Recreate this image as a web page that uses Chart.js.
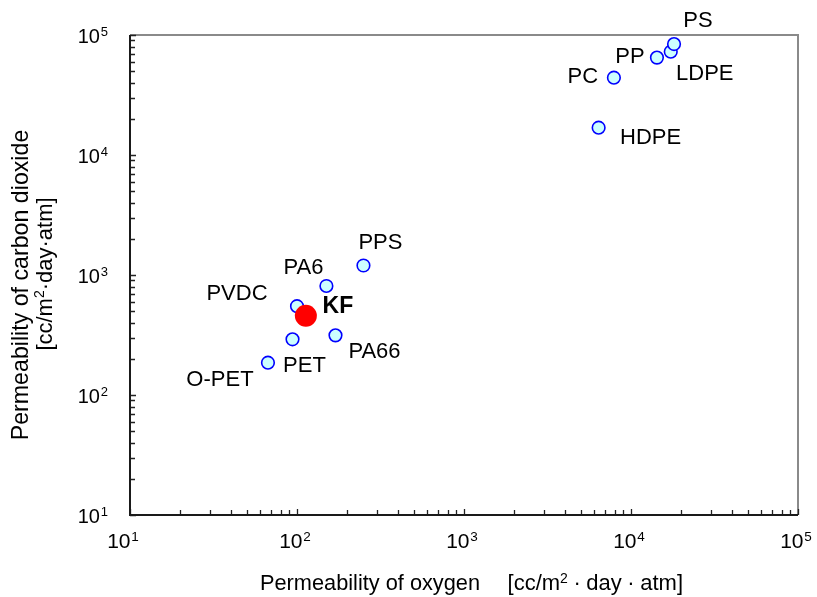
<!DOCTYPE html>
<html>
<head>
<meta charset="utf-8">
<script src="https://cdn.jsdelivr.net/npm/chart.js@4.4.1/dist/chart.umd.min.js"></script>
<style>
  html, body { margin: 0; padding: 0; background: #ffffff; }
  #c { display: block; }
</style>
</head>
<body>
<canvas id="c" width="817" height="597"></canvas>
<script>
// Film materials: oxygen vs. carbon dioxide permeability [cc/m2·day·atm]
const materials     = ['HDPE', 'PC', 'PP', 'LDPE', 'PS', 'PPS', 'PA6', 'PVDC', 'PA66', 'PET', 'O-PET'];
const oxygen        = [6400, 7900, 14300, 17300, 18100, 250, 150, 100, 170, 94, 67];
const carbonDioxide = [16900, 44100, 64800, 72600, 84000, 1200, 810, 550, 314, 291, 186];

// Highlighted material
const kfName          = ['KF'];
const kfOxygen        = [113];
const kfCarbonDioxide = [458];

// Decade tick labels: base and exponent
const tickValues    = [10, 100, 1000, 10000, 100000];
const tickExponents = ['1', '2', '3', '4', '5'];

// Label placement relative to each marker (pixels)
const labelOffset = {
  'PS':   [24, -23], 'LDPE': [34, 22], 'PP': [-27, -1], 'PC': [-31, -1],
  'HDPE': [52, 10],  'PPS':  [17, -23], 'PA6': [-23, -18], 'PVDC': [-60, -12],
  'PA66': [39, 17],  'PET':  [12, 27],  'O-PET': [-48, 17], 'KF': [32, -9]
};

const FONT = '"Liberation Sans", Arial, Helvetica, sans-serif';

// Draw a run of text pieces (each with its own font and vertical shift)
function drawRuns(ctx, runs, x, y, align) {
  let total = 0;
  const widths = runs.map(r => { ctx.font = r.font; const w = ctx.measureText(r.text).width; total += w; return w; });
  let cx = align === 'center' ? x - total / 2 : (align === 'right' ? x - total : x);
  ctx.textAlign = 'left';
  runs.forEach((r, i) => {
    ctx.font = r.font;
    ctx.fillText(r.text, cx, y + (r.dy || 0));
    cx += widths[i];
  });
  return total;
}

const decorPlugin = {
  id: 'decor',
  beforeDatasetsDraw(chart) {
    const { ctx, chartArea: a, scales: { x, y } } = chart;
    ctx.save();
    // top and right frame
    ctx.strokeStyle = '#8a8a8a';
    ctx.lineWidth = 2;
    ctx.beginPath();
    ctx.moveTo(a.left, a.top);
    ctx.lineTo(a.right, a.top);
    ctx.lineTo(a.right, a.bottom);
    ctx.stroke();

    // inner ticks, major at decades
    ctx.strokeStyle = '#222222';
    ctx.lineWidth = 1.3;
    ctx.beginPath();
    for (let d = 0; d < tickValues.length - 1; d++) {
      for (let k = 1; k <= 10; k++) {
        const v = tickValues[d] * k;
        const len = (k === 1 || k === 10) ? 6 : 5;
        const px = Math.round(x.getPixelForValue(v)) + 0.5;
        ctx.moveTo(px, a.bottom);
        ctx.lineTo(px, a.bottom - len);
        const py = Math.round(y.getPixelForValue(v)) + 0.5;
        ctx.moveTo(a.left, py);
        ctx.lineTo(a.left + len, py);
      }
    }
    ctx.stroke();

    // left and bottom axis lines
    ctx.strokeStyle = '#1a1a1a';
    ctx.lineWidth = 2;
    ctx.beginPath();
    ctx.moveTo(a.left, a.top);
    ctx.lineTo(a.left, a.bottom);
    ctx.lineTo(a.right, a.bottom);
    ctx.stroke();

    // decade tick labels with superscript exponents
    ctx.fillStyle = '#000000';
    ctx.textBaseline = 'alphabetic';
    const xBase = '21px ' + FONT, xExp = '13.5px ' + FONT;
    const yBase = '20px ' + FONT, yExp = '13px ' + FONT;
    tickValues.forEach((v, i) => {
      const px = x.getPixelForValue(v) - (i === 0 ? 7 : 2);
      drawRuns(ctx, [
        { text: '10', font: xBase },
        { text: ' ', font: '3px ' + FONT },
        { text: tickExponents[i], font: xExp, dy: -7 }
      ], px, a.bottom + 33, 'center');
      const py = y.getPixelForValue(v);
      drawRuns(ctx, [
        { text: '10', font: yBase },
        { text: ' ', font: '3px ' + FONT },
        { text: tickExponents[i], font: yExp, dy: -7 }
      ], a.left - 22, py + 8, 'right');
    });

    // x axis title
    ctx.font = '21.75px ' + FONT;
    ctx.textAlign = 'left';
    ctx.fillText('Permeability of oxygen', 260, 590);
    const gap = { text: ' ', font: '20px ' + FONT };
    drawRuns(ctx, [
      { text: '[cc/m', font: '22px ' + FONT },
      { text: '2', font: '14px ' + FONT, dy: -7 },
      gap, { text: '\u00B7', font: '22px ' + FONT }, gap,
      { text: 'day', font: '22px ' + FONT },
      gap, { text: '\u00B7', font: '22px ' + FONT }, gap,
      { text: 'atm]', font: '22px ' + FONT }
    ], 683, 590, 'right');

    // y axis title (two lines)
    ctx.save();
    ctx.translate(22, 285);
    ctx.rotate(-Math.PI / 2);
    ctx.textBaseline = 'middle';
    ctx.textAlign = 'center';
    ctx.font = '23.2px ' + FONT;
    ctx.fillText('Permeability of carbon dioxide', 0, 0);
    ctx.restore();
    ctx.save();
    ctx.translate(46, 274);
    ctx.rotate(-Math.PI / 2);
    ctx.textBaseline = 'middle';
    drawRuns(ctx, [
      { text: '[cc/m', font: '22px ' + FONT },
      { text: '2', font: '14px ' + FONT, dy: -6 },
      { text: '\u00B7day\u00B7atm]', font: '22px ' + FONT }
    ], 0, 0, 'center');
    ctx.restore();
    ctx.restore();
  },
  afterDatasetsDraw(chart) {
    const { ctx } = chart;
    ctx.save();
    ctx.fillStyle = '#000000';
    ctx.textAlign = 'center';
    ctx.textBaseline = 'middle';
    chart.data.datasets.forEach((ds, di) => {
      const meta = chart.getDatasetMeta(di);
      meta.data.forEach((pt, i) => {
        const name = ds.names[i];
        const off = labelOffset[name] || [0, -20];
        ctx.font = (ds.bold ? 'bold 23px ' : '22px ') + FONT;
        ctx.fillText(name, pt.x + off[0], pt.y + off[1]);
      });
    });
    ctx.restore();
  }
};

new Chart(document.getElementById('c'), {
  type: 'scatter',
  data: {
    datasets: [
      {
        label: 'KF',
        names: kfName,
        bold: true,
        data: kfOxygen.map((v, i) => ({ x: v, y: kfCarbonDioxide[i] })),
        pointRadius: 11,
        pointHoverRadius: 11,
        pointBackgroundColor: '#ff0000',
        pointBorderColor: '#ff0000',
        pointBorderWidth: 0
      },
      {
        label: 'Films',
        names: materials,
        data: oxygen.map((v, i) => ({ x: v, y: carbonDioxide[i] })),
        pointRadius: 6.3,
        pointHoverRadius: 6.3,
        pointBackgroundColor: '#ccffff',
        pointBorderColor: '#0000ff',
        pointBorderWidth: 1.6
      }
    ]
  },
  options: {
    responsive: false,
    devicePixelRatio: 1,
    animation: false,
    events: [],
    layout: { padding: { left: 0, top: 35, right: 19, bottom: 0 } },
    plugins: { legend: { display: false }, tooltip: { enabled: false } },
    scales: {
      x: {
        type: 'logarithmic',
        min: 10,
        max: 100000,
        grid: { display: false },
        border: { display: false },
        ticks: { display: false },
        afterFit(scale) { scale.height = 82; }
      },
      y: {
        type: 'logarithmic',
        min: 10,
        max: 100000,
        grid: { display: false },
        border: { display: false },
        ticks: { display: false },
        afterFit(scale) { scale.width = 130; }
      }
    }
  },
  plugins: [decorPlugin]
});
</script>
</body>
</html>
